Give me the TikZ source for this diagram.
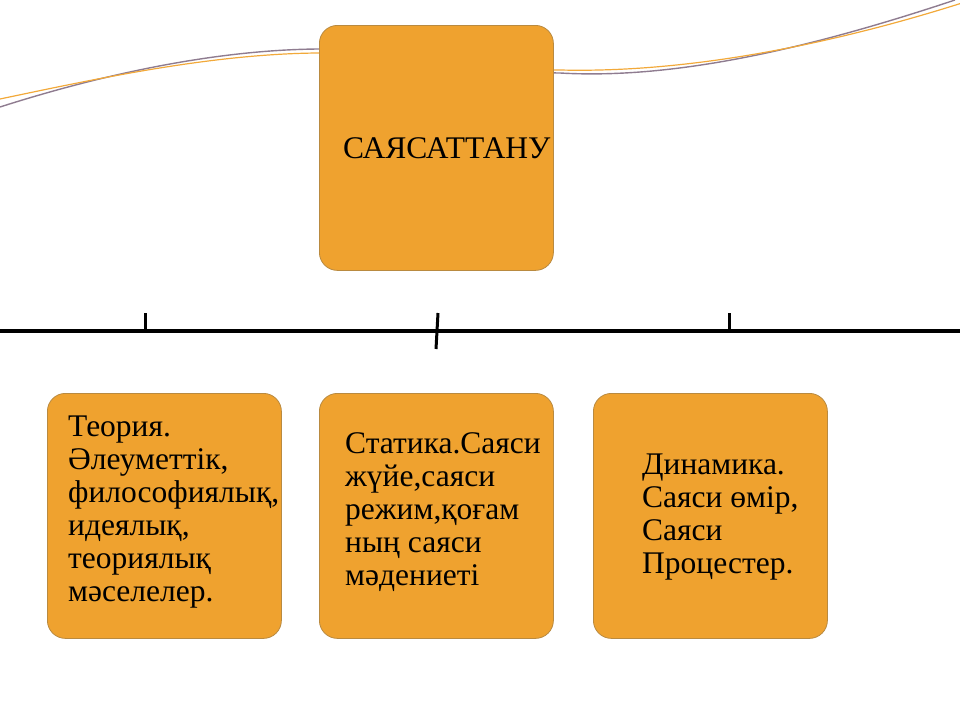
\documentclass[tikz,border=0pt]{standalone}
\usepackage{fontspec}
\setmainfont{Liberation Serif}
\definecolor{boxfill}{HTML}{EFA22F}
\definecolor{boxedge}{HTML}{B98A40}
\definecolor{curvea}{HTML}{8F7C90}
\definecolor{curveb}{HTML}{F2A93A}
\begin{document}
\begin{tikzpicture}[x=1pt,y=-1pt,
  obox/.style={draw=boxedge,line width=0.8pt,fill=boxfill,rounded corners=18pt,
    minimum width=234pt,minimum height=245pt,inner sep=0pt,anchor=north west},
  btext/.style={font=\fontsize{31.5}{33}\selectfont,align=left,inner sep=0pt,anchor=north west},
  axis/.style={line width=3.2pt,black},
  tick/.style={line width=3pt,black}]
\useasboundingbox (0,0) rectangle (960,720);
% background curves
\draw[curvea,line width=1.4pt] (0,107) .. controls (100,75) and (220,48) .. (330,49)
  .. controls (440,50) and (450,72) .. (560,73) .. controls (680,80) and (820,45) .. (955,0);
\draw[curveb,line width=1.2pt] (0,99) .. controls (100,78) and (220,52) .. (330,53)
  .. controls (440,54) and (450,70) .. (560,70) .. controls (680,73) and (820,48) .. (962,3);
% boxes
\node[obox] (top) at (319,25) {};
\node[obox] (left) at (47,393) {};
\node[obox] (mid) at (319,393) {};
\node[obox] (right) at (593,393) {};
% texts
\node[font=\fontsize{31.5}{33}\selectfont,inner sep=0pt,anchor=base west] (ttop) at (343,158) {САЯСАТТАНУ};
\node[btext] (tleft) at (68,416) {Теория.\\Әлеуметтік,\\философиялық,\\идеялық,\\теориялық\\мәселелер.};
\node[btext] (tmid) at (345,432) {Статика.Саяси\\жүйе,саяси\\режим,қоғам\\ның саяси\\мәдениеті};
\node[btext] (tright) at (642,454) {Динамика.\\Саяси өмір,\\Саяси\\Процестер.};
% axis line and ticks
\coordinate (ax0) at (0,331);
\coordinate (ax1) at (960,331);
\coordinate (t1a) at (145,313);
\coordinate (t1b) at (145,331);
\coordinate (t2a) at (438,313);
\coordinate (t2b) at (436,349);
\coordinate (t3a) at (729,313);
\coordinate (t3b) at (729,331);
\draw[axis] (ax0) -- (ax1);
\draw[tick] (t1a) -- (t1b);
\draw[tick] (t2a) -- (t2b);
\draw[tick] (t3a) -- (t3b);
\end{tikzpicture}
\end{document}
